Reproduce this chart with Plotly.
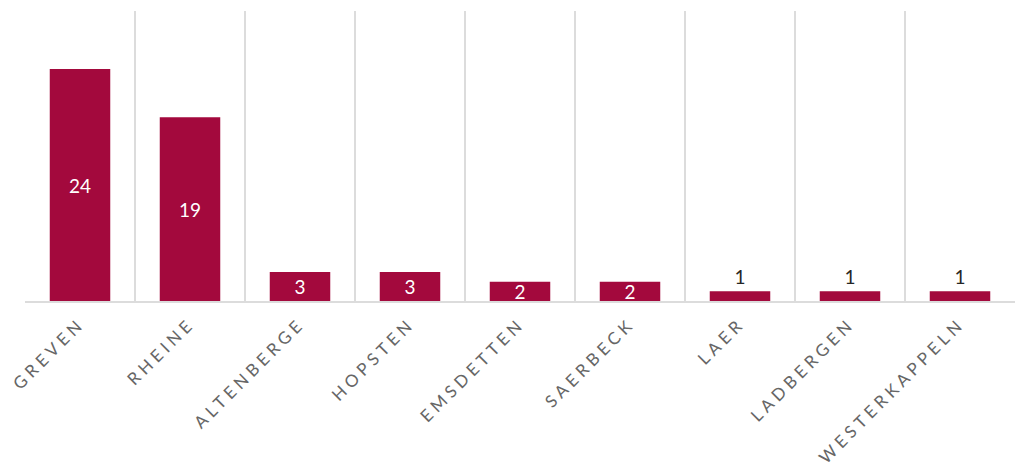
import plotly.graph_objects as go

categories = ["GREVEN", "RHEINE", "ALTENBERGE", "HOPSTEN", "EMSDETTEN",
              "SAERBECK", "LAER", "LADBERGEN", "WESTERKAPPELN"]
values = [24, 19, 3, 3, 2, 2, 1, 1, 1]

bar_color = "#A3093D"
positions = ["inside" if v > 1 else "outside" for v in values]
label_colors = ["white" if v > 1 else "#262626" for v in values]

fig = go.Figure(go.Bar(
    x=categories, y=values,
    marker=dict(color=bar_color, line=dict(width=0)),
    text=[str(v) for v in values],
    textposition=positions,
    textangle=0,
    insidetextanchor="middle",
    constraintext="none",
    cliponaxis=False,
    textfont=dict(family="Lato, Carlito, sans-serif", size=19, color=label_colors),
    outsidetextfont=dict(family="Lato, Carlito, sans-serif", size=19, color="#262626"),
    insidetextfont=dict(family="Lato, Carlito, sans-serif", size=19, color="white"),
))

fig.update_layout(
    width=1021, height=466,
    margin=dict(l=25, r=6, t=11, b=165, autoexpand=False),
    paper_bgcolor="white", plot_bgcolor="white",
    bargap=0.45,
    showlegend=False,
    uniformtext=dict(mode=False),
    xaxis=dict(
        type="category",
        tickson="boundaries",
        automargin=False,
        showgrid=True, gridcolor="#DCDCDC", gridwidth=2,
        showline=True, linecolor="#DCDCDC", linewidth=2,
        ticks="", tickangle=-45,
        ticklabelstandoff=4,
        tickfont=dict(family="Lato, Carlito, sans-serif", size=17, color="#666666"),
        zeroline=False,
    ),
    yaxis=dict(
        range=[0, 30], showgrid=False, showticklabels=False,
        automargin=False,
        zeroline=False, showline=False, ticks="",
    ),
)

post = """
var s = document.createElement('style');
s.innerHTML = 'html, body { margin: 0; padding: 0; overflow: hidden; } .xtick text { letter-spacing: 4.3px; }';
document.head.appendChild(s);
"""

fig.write_html("out.html", post_script=post, config={"displayModeBar": False})
